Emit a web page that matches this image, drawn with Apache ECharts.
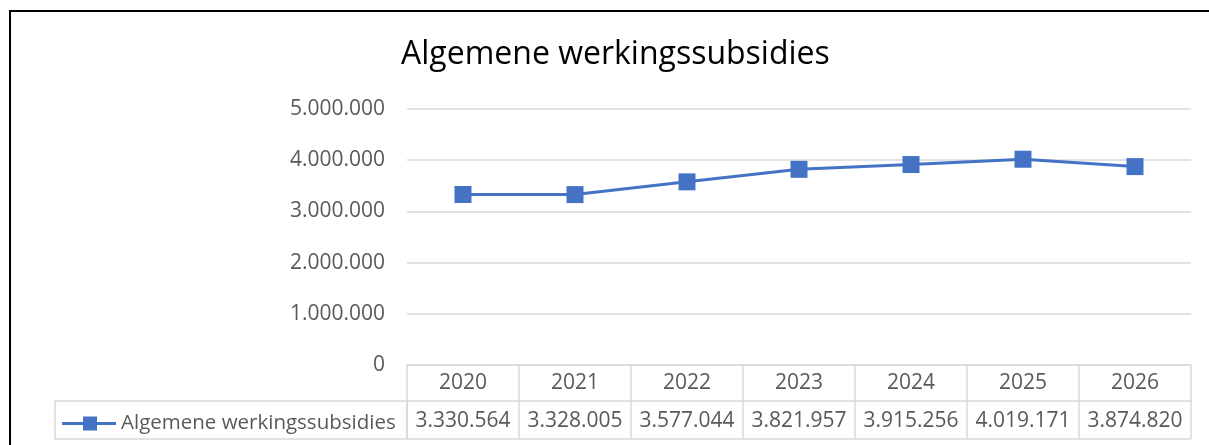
<!DOCTYPE html>
<html>
<head>
<meta charset="utf-8">
<script src="https://cdn.jsdelivr.net/npm/echarts@6/dist/echarts.min.js"></script>
<style>
  html, body { margin: 0; padding: 0; background: #fff; }
  #chart { width: 1209px; height: 445px; }
</style>
</head>
<body>
<div id="chart"></div>
<script>
// data
var years = ['2020', '2021', '2022', '2023', '2024', '2025', '2026'];
var subsidies = [3330564, 3328005, 3577044, 3821957, 3915256, 4019171, 3874820];
var seriesName = 'Algemene werkingssubsidies';
var yTicks = [0, 1000000, 2000000, 3000000, 4000000, 5000000];

// punt als duizendtal-scheiding
function fmt (v) {
  return String(v).replace(/\B(?=(\d{3})+(?!\d))/g, '.');
}

var chart = echarts.init(document.getElementById('chart'));
var font = '"Open Sans", sans-serif';
var grey = '#595959';
var lineGrey = '#d9d9d9';
var blue = '#4472C4';

var option = {
  animation: false,
  title: {
    text: seriesName,
    left: 396,
    top: 34,
    textStyle: { fontFamily: font, fontSize: 32, fontWeight: 'normal', color: '#000' }
  },
  legend: {
    left: 62,
    top: 413,
    padding: 0,
    itemWidth: 54,
    itemHeight: 14,
    // lijn met vierkant, zoals in Excel
    icon: 'path://M0,5.5H21V0H35V5.5H54V8.5H35V14H21V8.5H0Z',
    itemStyle: { color: blue },
    textStyle: { fontFamily: font, fontSize: 20.5, color: grey },
    data: [seriesName]
  },
  grid: { left: 407, right: 18, top: 109, bottom: 80 },
  xAxis: [{
    type: 'category',
    data: years,
    boundaryGap: true,
    axisLine: { lineStyle: { color: lineGrey, width: 1.5 } },
    axisTick: { show: true, interval: 0, length: 36, lineStyle: { color: lineGrey, width: 1.5 } },
    axisLabel: { interval: 0, margin: 8, fontFamily: font, fontSize: 21, color: grey }
  }, {
    type: 'category',
    data: years,
    position: 'bottom',
    offset: 36,
    boundaryGap: true,
    axisLine: { lineStyle: { color: lineGrey, width: 1.5 } },
    axisTick: { show: true, interval: 0, length: 38, lineStyle: { color: lineGrey, width: 1.5 } },
    axisLabel: {
      interval: 0, hideOverlap: false,
      margin: 10, fontFamily: font, fontSize: 21, color: grey,
      formatter: function (v, i) { return fmt(subsidies[i]); }
    }
  }],
  yAxis: {
    type: 'value',
    min: yTicks[0],
    max: yTicks[yTicks.length - 1],
    interval: 1000000,
    axisLine: { show: false },
    axisTick: { show: false },
    splitLine: { lineStyle: { color: lineGrey, width: 1.5 } },
    axisLabel: { margin: 22, fontFamily: font, fontSize: 21, color: grey, formatter: fmt }
  },
  series: [{
    name: seriesName,
    type: 'line',
    data: subsidies,
    symbol: 'rect',
    symbolSize: 17,
    itemStyle: { color: blue },
    lineStyle: { color: blue, width: 3 },
    z: 5
  }],
  graphic: [
    // kader van de grafiek
    { type: 'rect', shape: { x: 10, y: 11, width: 1400, height: 600 }, style: { fill: 'none', stroke: '#000', lineWidth: 2 } },
    // legendacel van de datatabel
    { type: 'rect', shape: { x: 55, y: 401, width: 352, height: 38 }, style: { fill: 'none', stroke: lineGrey, lineWidth: 1.5 } },
    { type: 'line', shape: { x1: 407, y1: 439, x2: 1191, y2: 439 }, style: { stroke: lineGrey, lineWidth: 1.5 } }
  ]
};
chart.setOption(option);
</script>
</body>
</html>
